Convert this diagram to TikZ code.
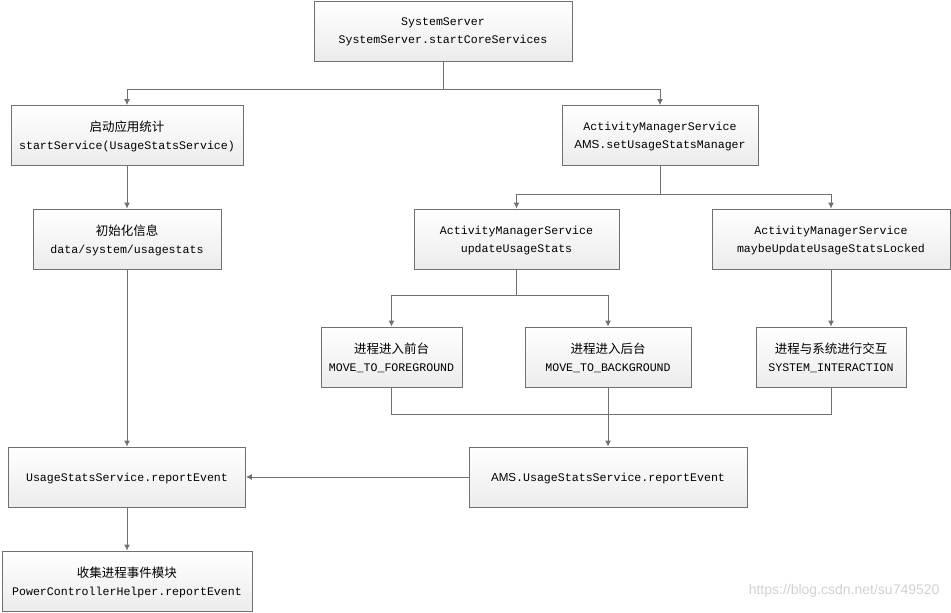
\documentclass[tikz,border=0pt]{standalone}
\usepackage{fontspec}
\setmainfont{Liberation Sans}
\setmonofont{Liberation Mono}
\newfontfamily\cjk{Noto Sans CJK SC}
\usepackage{tikz}
\usetikzlibrary{arrows.meta}
\usetikzlibrary{positioning}
\definecolor{linegray}{rgb}{0.44, 0.44, 0.44}
\definecolor{boxbottom}{rgb}{0.925, 0.925, 0.925}
\definecolor{markgray}{rgb}{0.82, 0.82, 0.82}
\tikzset{box/.style = {draw = linegray, line width = 0.9pt, top color = white, bottom color = boxbottom,
                       align = center, minimum height = 60pt, inner sep = 2pt, text depth = 0pt,
                       font = \fontsize{11.6}{18}\selectfont\ttfamily}}
\tikzset{flow/.style = {draw = linegray, line width = 0.9pt}}
\tikzset{>={Latex[length = 6pt, width = 6pt]}}
\newcommand{\zh}[1]{{\cjk\fontsize{12.5}{18}\selectfont #1}}
\newcommand{\ams}{{\rmfamily AMS}}

\begin{document}
\begin{tikzpicture}[x=1pt, y=-1pt]
      \useasboundingbox (0, 0) rectangle (951, 613);

      \node [box, minimum width = 258pt] (sys) at (443, 31) {SystemServer\\SystemServer.startCoreServices};

      \node [box, minimum width = 232pt] (start) at (127, 135.5) {\zh{启动应用统计}\\startService(UsageStatsService)};
      \node [box, minimum width = 196pt] (ams) at (660, 135.5) {ActivityManagerService\\\ams.setUsageStatsManager};

      \node [box, minimum width = 188pt] (init) at (127, 239) {\zh{初始化信息}\\data/system/usagestats};
      \node [box, minimum width = 205pt] (upd) at (516.5, 239) {ActivityManagerService\\updateUsageStats};
      \node [box, minimum width = 238pt] (maybe) at (831, 239) {ActivityManagerService\\maybeUpdateUsageStatsLocked};

      \node [box, minimum width = 141pt] (fg) at (391.5, 357) {\zh{进程进入前台}\\MOVE\_TO\_FOREGROUND};
      \node [box, minimum width = 166pt] (bg) at (608, 357) {\zh{进程进入后台}\\MOVE\_TO\_BACKGROUND};
      \node [box, minimum width = 150pt] (inter) at (831, 357) {\zh{进程与系统进行交互}\\SYSTEM\_INTERACTION};

      \node [box, minimum width = 237pt] (usrep) at (127, 477) {UsageStatsService.reportEvent};
      \node [box, minimum width = 278pt] (amsrep) at (608, 477) {\ams.UsageStatsService.reportEvent};

      \node [box, minimum width = 250pt] (collect) at (127, 581) {\zh{收集进程事件模块}\\PowerControllerHelper.reportEvent};

      % connectors
      \draw [flow] (sys.south) -- ++(0, 28) coordinate (j1);
      \draw [flow, ->] (j1) -| (start.north);
      \draw [flow, ->] (j1) -| (ams.north);

      \draw [flow, ->] (start) -- (init);
      \draw [flow, ->] (init) -- (usrep);
      \draw [flow, ->] (usrep) -- (collect);

      \draw [flow] (ams.south) -- ++(0, 28) coordinate (j2);
      \draw [flow, ->] (j2) -| (upd.north);
      \draw [flow, ->] (j2) -| (maybe.north);

      \draw [flow] (upd.south) -- ++(0, 26) coordinate (j3);
      \draw [flow, ->] (j3) -| (fg.north);
      \draw [flow, ->] (j3) -| (bg.north);
      \draw [flow, ->] (maybe) -- (inter);

      \draw [flow] (fg.south) -- ++(0, 27) -| (inter.south);
      \draw [flow, ->] (bg) -- (amsrep);
      \draw [flow, ->] (amsrep) -- (usrep);

      \node [text = markgray, font = \fontsize{14}{16}\selectfont, anchor = east] (mark) at (943, 591) {https://blog.csdn.net/su749520};
\end{tikzpicture}
\end{document}
